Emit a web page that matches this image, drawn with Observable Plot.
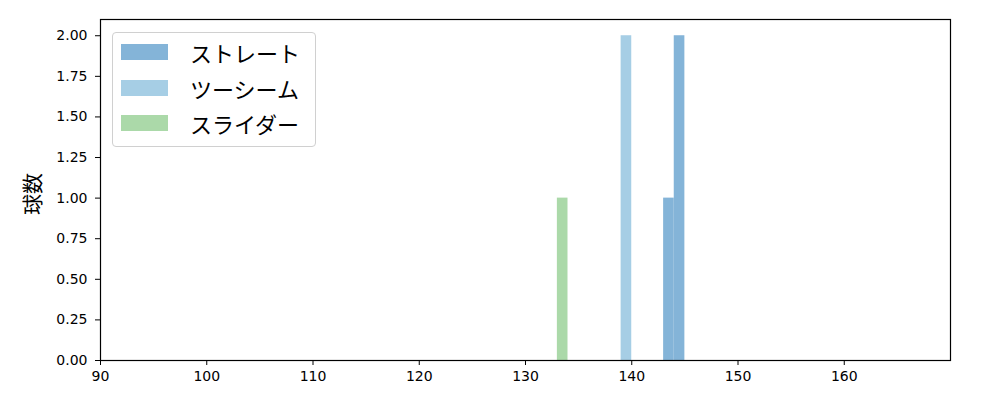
<!DOCTYPE html>
<html>
<head>
<meta charset="utf-8">
<script src="https://cdn.jsdelivr.net/npm/d3@7"></script>
<script src="https://cdn.jsdelivr.net/npm/@observablehq/plot@0.6"></script>
<style>
  html, body { margin: 0; padding: 0; background: #fff; }
  #wrap { position: relative; width: 1000px; height: 400px; font-family: "Noto Sans CJK JP", "DejaVu Sans", sans-serif; }
  #legend { position: absolute; left: 112px; top: 32px; width: 204px; height: 115px; border: 1px solid #d0d0d0; border-radius: 4px; background: rgba(255,255,255,0.8); box-sizing: border-box; }
  .row { position: absolute; left: 8px; height: 16px; display: flex; align-items: center; }
  .sw { width: 47px; height: 16px; }
  .lab { margin-left: 22px; font-size: 22px; line-height: 16px; color: #000; white-space: nowrap; }
</style>
</head>
<body>
<div id="wrap"></div>
<script>
// Data: pitch speeds (km/h) per pitch type
const seriesNames = ["ストレート", "ツーシーム", "スライダー"];
const seriesColors = ["#84b4d8", "#a6cee5", "#abd9a9"];
const straight = [143.5, 144.5, 144.5];
const twoSeam = [139.5, 139.5];
const slider = [133.5];
const xTicks = [90, 100, 110, 120, 130, 140, 150, 160];
const yTicks = [0, 0.25, 0.5, 0.75, 1.0, 1.25, 1.5, 1.75, 2.0];
const binEdges = d3.range(90, 171, 1);

const rows = [
  ...straight.map(v => ({type: seriesNames[0], v})),
  ...twoSeam.map(v => ({type: seriesNames[1], v})),
  ...slider.map(v => ({type: seriesNames[2], v}))
];

const chart = Plot.plot({
  width: 1000,
  height: 400,
  marginLeft: 100,
  marginRight: 50,
  marginTop: 19,
  marginBottom: 40,
  style: {fontFamily: "'DejaVu Sans', sans-serif", fontSize: "14px", color: "#000", background: "#fff"},
  x: {domain: [90, 170], ticks: xTicks, tickSize: 5, tickPadding: 6, label: null, tickFormat: d3.format("d")},
  y: {domain: [0, 2.1], ticks: yTicks, tickSize: 5, tickPadding: 8, label: null, tickFormat: d3.format(".2f")},
  color: {domain: seriesNames, range: seriesColors},
  marks: [
    Plot.rectY(rows, Plot.binX({y: "count"}, {x: "v", fill: "type", thresholds: binEdges, inset: 0})),
    Plot.frame({stroke: "#000", strokeWidth: 1.2}),
    Plot.text(["球数"], {frameAnchor: "left", textAnchor: "middle", lineAnchor: "middle", dx: -67, dy: 4, rotate: -90, fontSize: 21, fill: "#000", fontFamily: "'Noto Sans CJK JP', sans-serif"})
  ]
});

const wrap = document.getElementById("wrap");
wrap.appendChild(chart);

const legend = document.createElement("div");
legend.id = "legend";
seriesNames.forEach((name, i) => {
  const row = document.createElement("div");
  row.className = "row";
  row.style.top = (11 + i * 35.5) + "px";
  const sw = document.createElement("div");
  sw.className = "sw";
  sw.style.background = seriesColors[i];
  const lab = document.createElement("div");
  lab.className = "lab";
  lab.textContent = name;
  row.appendChild(sw);
  row.appendChild(lab);
  legend.appendChild(row);
});
wrap.appendChild(legend);
</script>
</body>
</html>
